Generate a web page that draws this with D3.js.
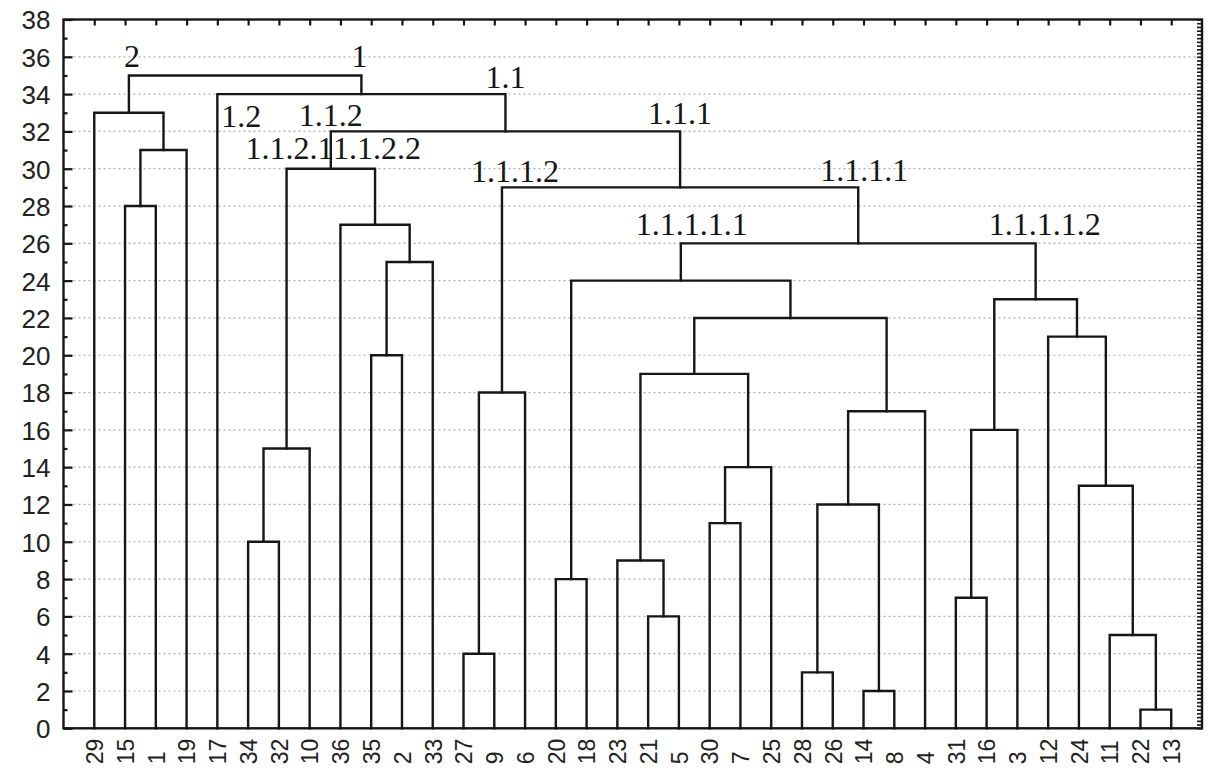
<!DOCTYPE html>
<html>
<head>
<meta charset="utf-8">
<script src="https://cdn.jsdelivr.net/npm/d3@7/dist/d3.min.js"></script>
<style>
  html, body { margin: 0; padding: 0; background: #fff; }
  svg { display: block; }
</style>
</head>
<body>
<svg id="chart" width="1209" height="768"></svg>
<script>
// Leaf order along the horizontal axis
const leafOrder = ["29","15","1","19","17","34","32","10","36","35","2","33","27","9","6",
  "20","18","23","21","5","30","7","25","28","26","14","8","4","31","16","3","12","24","11","22","13"];

// Agglomeration steps: [left, right, linkage distance]; step k is referred to as "c" + k
const merges = [
  ["22", "13", 1],   // c1
  ["14", "8", 2],    // c2
  ["28", "26", 3],   // c3
  ["27", "9", 4],    // c4
  ["11", "c1", 5],   // c5
  ["21", "5", 6],    // c6
  ["31", "16", 7],   // c7
  ["20", "18", 8],   // c8
  ["23", "c6", 9],   // c9
  ["34", "32", 10],  // c10
  ["30", "7", 11],   // c11
  ["c3", "c2", 12],  // c12
  ["24", "c5", 13],  // c13
  ["c11", "25", 14], // c14
  ["c10", "10", 15], // c15
  ["c7", "3", 16],   // c16
  ["c12", "4", 17],  // c17
  ["c4", "6", 18],   // c18
  ["c9", "c14", 19], // c19
  ["35", "2", 20],   // c20
  ["12", "c13", 21], // c21
  ["c19", "c17", 22],// c22
  ["c16", "c21", 23],// c23
  ["c8", "c22", 24], // c24
  ["c20", "33", 25], // c25
  ["c24", "c23", 26],// c26
  ["36", "c25", 27], // c27
  ["15", "1", 28],   // c28
  ["c18", "c26", 29],// c29
  ["c15", "c27", 30],// c30
  ["c28", "19", 31], // c31
  ["c30", "c29", 32],// c32
  ["29", "c31", 33], // c33
  ["17", "c32", 34], // c34
  ["c33", "c34", 35] // c35
];

// Named clusters and the node each name belongs to
const clusterNames = ["2","1","1.2","1.1","1.1.2","1.1.1","1.1.2.1","1.1.2.2","1.1.1.2","1.1.1.1","1.1.1.1.1","1.1.1.1.2"];
const clusterNodes = ["c33","c34","17","c32","c30","c29","c15","c27","c18","c26","c24","c23"];

// Axis ticks
const yMajorTicks = d3.range(0, 39, 2);
const yMinorTicks = d3.range(1, 38, 2);
const yFineTicks = d3.range(0, 38.01, 0.2);
const gridValues = d3.range(2, 37, 2);

// ---------- layout ----------
const plotLeft = 63.5, plotRight = 1202, plotTop = 19.5, plotBottom = 728.3;
const ink = "#161616";

const svg = d3.select("#chart");

const x = d3.scalePoint().domain(leafOrder).range([plotLeft, plotRight]).padding(1);
const y = d3.scaleLinear().domain([0, 38]).range([plotBottom, plotTop]);

// Build node table: position and height of every leaf and merge
const nodes = {};
leafOrder.forEach(id => { nodes[id] = { id, x: x(id), h: 0 }; });
merges.forEach(([a, b, h], i) => {
  const id = "c" + (i + 1);
  nodes[id] = { id, a, b, h, x: (nodes[a].x + nodes[b].x) / 2 };
  nodes[a].parent = id;
  nodes[b].parent = id;
});

// Dotted horizontal grid
svg.append("g")
  .selectAll("line")
  .data(gridValues)
  .join("line")
  .attr("x1", plotLeft).attr("x2", plotRight)
  .attr("y1", d => y(d)).attr("y2", d => y(d))
  .attr("stroke", "#b0b0b0")
  .attr("stroke-width", 1.2)
  .attr("stroke-dasharray", "2,3");

// Dendrogram elbows
const links = merges.map(([a, b, h]) => ({ A: nodes[a], B: nodes[b], h }));
svg.append("g")
  .selectAll("path")
  .data(links)
  .join("path")
  .attr("fill", "none")
  .attr("stroke", ink)
  .attr("stroke-width", 2.4)
  .attr("stroke-linecap", "square")
  .attr("d", d => `M${d.A.x},${y(d.A.h)}V${y(d.h)}H${d.B.x}V${y(d.B.h)}`);

// Frame
svg.append("rect")
  .attr("x", plotLeft).attr("y", plotTop)
  .attr("width", plotRight - plotLeft).attr("height", plotBottom - plotTop)
  .attr("fill", "none").attr("stroke", ink).attr("stroke-width", 2.4);

// Left axis: labelled even values, short ticks pointing inward
const yAxis = svg.append("g")
  .attr("transform", `translate(${plotLeft},0)`)
  .call(d3.axisLeft(y).tickValues(yMajorTicks).tickSize(-9).tickPadding(13).tickFormat(d3.format("d")));
yAxis.select(".domain").remove();
yAxis.selectAll("line").attr("stroke", ink).attr("stroke-width", 2.2);
yAxis.selectAll("text")
  .attr("font-family", "'Liberation Sans', Arial, sans-serif")
  .attr("font-size", 26)
  .attr("fill", "#222")
  .attr("dy", "0.36em");

const yMinor = svg.append("g")
  .attr("transform", `translate(${plotLeft},0)`)
  .call(d3.axisLeft(y).tickValues(yMinorTicks).tickSize(-4).tickFormat(""));
yMinor.select(".domain").remove();
yMinor.selectAll("line").attr("stroke", ink).attr("stroke-width", 2.2);

// Right axis: fine inward ticks
const yRight = svg.append("g")
  .attr("transform", `translate(${plotRight},0)`)
  .call(d3.axisRight(y).tickValues(yFineTicks).tickSize(-5).tickFormat(""));
yRight.select(".domain").remove();
yRight.selectAll("line").attr("stroke", ink).attr("stroke-width", 1.6);

// Top axis: a tick over every leaf
const xTop = svg.append("g")
  .attr("transform", `translate(0,${plotTop})`)
  .call(d3.axisTop(x).tickSize(-6).tickFormat(""));
xTop.select(".domain").remove();
xTop.selectAll("line").attr("stroke", ink).attr("stroke-width", 2.2);

// Bottom axis: rotated leaf labels
const xBottom = svg.append("g")
  .attr("transform", `translate(0,${plotBottom})`)
  .call(d3.axisBottom(x).tickSize(0));
xBottom.select(".domain").remove();
xBottom.selectAll("text")
  .attr("transform", "rotate(-90)")
  .attr("x", -36)
  .attr("y", 0)
  .attr("dy", "0.36em")
  .attr("text-anchor", "start")
  .attr("font-family", "'Liberation Sans', Arial, sans-serif")
  .attr("font-size", 23)
  .attr("fill", "#222");

// Cluster names, set just above the junction with the parent cluster
const labelNudge = {
  "2": [3, -8], "1": [-2, -8], "1.2": [24, 33], "1.1": [0, -6],
  "1.1.2": [0, -5], "1.1.1": [0, -7], "1.1.2.1": [3, -10], "1.1.2.2": [2, -10],
  "1.1.1.2": [13, -5], "1.1.1.1": [6, -6], "1.1.1.1.1": [11, -8], "1.1.1.1.2": [9, -8]
};
svg.append("g")
  .selectAll("text")
  .data(clusterNames.map((name, i) => ({ name, node: nodes[clusterNodes[i]] })))
  .join("text")
  .attr("x", d => d.node.x + labelNudge[d.name][0])
  .attr("y", d => y(nodes[d.node.parent].h) + labelNudge[d.name][1])
  .attr("text-anchor", "middle")
  .attr("font-family", "'Liberation Serif', 'Times New Roman', serif")
  .attr("font-size", 32)
  .attr("fill", ink)
  .text(d => d.name);
</script>
</body>
</html>
